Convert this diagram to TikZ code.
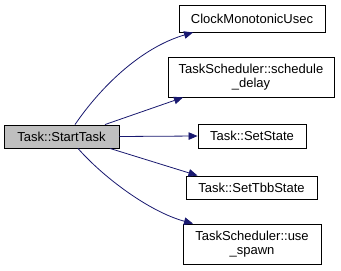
\documentclass[tikz,border=0pt]{standalone}
\usepackage{fontspec}
\setmainfont{Liberation Sans}
\usetikzlibrary{arrows.meta}
\definecolor{edgeblue}{HTML}{191970}
\definecolor{curfill}{HTML}{BFBFBF}
\tikzset{
  fn/.style={draw=black, line width=0.9pt, fill=white, inner sep=0pt, align=center,
             font=\fontsize{13}{14.5}\selectfont},
  call/.style={draw=edgeblue, line width=0.8pt,
               -{Triangle[length=9pt,width=7.5pt,fill=edgeblue]}},
}
\begin{document}
\begin{tikzpicture}[x=1pt,y=-1pt]
\useasboundingbox (0,0) rectangle (341,271);
\fill[white] (0,0) rectangle (341,271);

% caller
\node[fn, fill=curfill, minimum width=115pt, minimum height=23pt] (st) at (61.5,136.5) {Task::StartTask};

% callees
\node[fn, minimum width=146pt, minimum height=27pt] (clk) at (252,18.5) {ClockMonotonicUsec};
\node[fn, minimum width=166pt, minimum height=40pt] (sd) at (251,77) {TaskScheduler::schedule\\\_delay};
\node[fn, minimum width=108pt, minimum height=24pt] (ss) at (252,136) {Task::SetState};
\node[fn, minimum width=131pt, minimum height=23pt] (tb) at (251.5,187.5) {Task::SetTbbState};
\node[fn, minimum width=138pt, minimum height=40pt] (us) at (252,244) {TaskScheduler::use\\\_spawn};

% call edges
\draw[call] ([xshift=13.5pt]st.north) .. controls (100,88) and (140,48) .. ([xshift=-59pt]clk.south);
\draw[call] ([xshift=43.5pt]st.north) -- ([xshift=-68pt]sd.south);
\draw[call] (st.east) -- (ss.west);
\draw[call] ([xshift=48.5pt]st.south) -- ([xshift=-54pt]tb.north);
\draw[call] ([xshift=16.5pt]st.south) .. controls (104,178) and (150,212) .. ([xshift=-59pt]us.north);
\end{tikzpicture}
\end{document}
